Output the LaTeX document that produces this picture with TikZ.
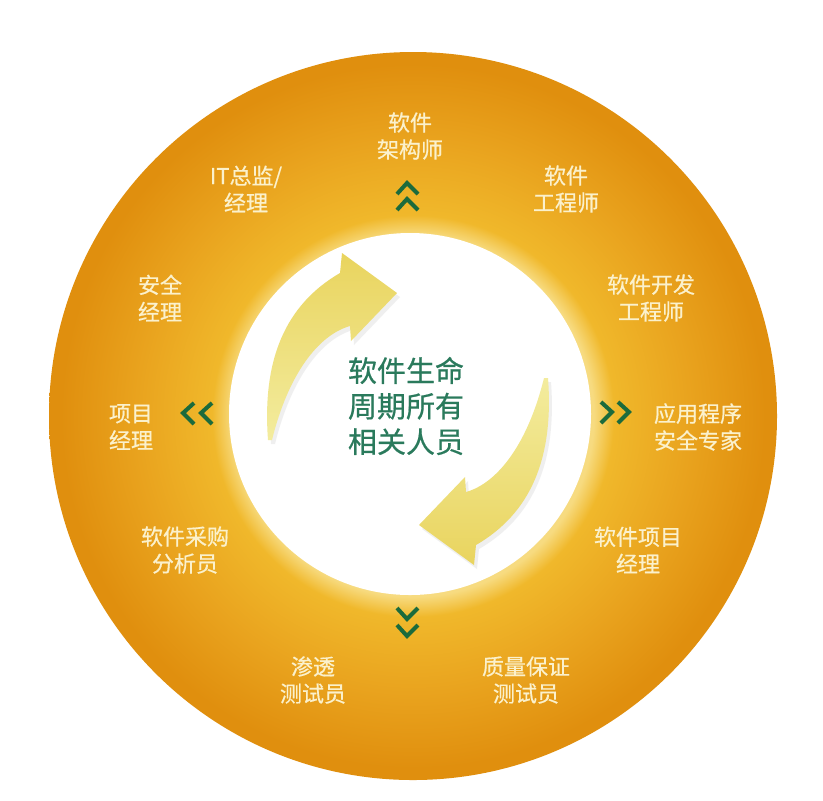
\documentclass[tikz,border=0pt]{standalone}
\usepackage{fontspec}
\setmainfont{Noto Sans CJK SC}
\newfontfamily\lblfont{Noto Sans CJK SC}[FakeBold=0.6]
\usepackage{tikz}
\usetikzlibrary{shapes}
\definecolor{ringout}{HTML}{E08F0E}
\definecolor{ringmid}{HTML}{E9A31E}
\definecolor{ringin}{HTML}{F0B82B}
\definecolor{ringglow}{HTML}{F7DB80}
\definecolor{lbltext}{HTML}{FBF1CC}
\definecolor{chevgreen}{HTML}{1C6B3C}
\definecolor{coretext}{HTML}{2A7A5C}
\definecolor{arrdark}{HTML}{E9D45E}
\definecolor{arrlight}{HTML}{F3EC9E}
\pgfdeclareradialshading{ringshade}{\pgfpoint{0bp}{0bp}}{color(0bp)=(ringglow); color(12.4bp)=(ringglow); color(13.8bp)=(ringin); color(19bp)=(ringmid); color(24.2bp)=(ringout); color(25bp)=(ringout); color(50bp)=(ringout)}
\newcommand{\arrowshape}{(268,440) .. controls (262,360) and (285,305) .. (340,273) -- (342,253) -- (397,293) -- (351,341) -- (350,326) .. controls (318,335) and (288,375) .. (272,440) -- cycle}

\begin{document}
\begin{tikzpicture}[x=0.5pt,y=-0.5pt,
  lbl/.style={text=lbltext,font=\lblfont\fontsize{11pt}{13.5pt}\selectfont,align=center,inner sep=0pt},
  chev/.style={draw=chevgreen,line width=2pt,line join=miter},
  arrshadow/.style={fill=black!30,opacity=0.2}]
\useasboundingbox (0,0) rectangle (823,800);
\fill[white] (0,0) rectangle (823,800);
% ring
\shade[shading=ringshade] (413,416) circle (364);
\fill[white] (410,414) circle (181);
% cycle arrows
\fill[arrshadow,shift={(3,4)}] \arrowshape;
\shade[top color=arrdark,bottom color=arrlight] \arrowshape;
\fill[arrshadow,shift={(3,4)},rotate around={180:(408,409)}] \arrowshape;
\shade[top color=arrlight,bottom color=arrdark,rotate around={180:(408,409)}] \arrowshape;
\node[text=coretext,font=\lblfont\fontsize{14.5pt}{17.75pt}\selectfont,align=center,inner sep=0pt] (core) at (406,406) {软件生命\\周期所有\\相关人员};
% chevrons
\draw[chev] (397,194) -- (407,183) -- (418,194);
\draw[chev] (397,210) -- (407,199) -- (418,210);
\draw[chev] (397,608) -- (407,619) -- (418,608);
\draw[chev] (397,625) -- (407,636) -- (418,625);
\draw[chev] (194,403) -- (183,413) -- (194,424);
\draw[chev] (212,403) -- (201,413) -- (212,424);
\draw[chev] (601,402) -- (612,412) -- (601,423);
\draw[chev] (618,402) -- (629,412) -- (618,423);
% roles
\node[lbl] (arch) at (410,136) {软件\\架构师};
\node[lbl] (itdir) at (246,189) {IT总监/\\经理};
\node[lbl] (sweng) at (566,189) {软件\\工程师};
\node[lbl] (secmgr) at (160,298) {安全\\经理};
\node[lbl] (deveng) at (651,298) {软件开发\\工程师};
\node[lbl] (projmgr) at (131,427) {项目\\经理};
\node[lbl] (appsec) at (698,427) {应用程序\\安全专家};
\node[lbl] (buyer) at (185,550) {软件采购\\分析员};
\node[lbl] (swpm) at (638,550) {软件项目\\经理};
\node[lbl] (pentest) at (313,680) {渗透\\测试员};
\node[lbl] (qatest) at (526,680) {质量保证\\测试员};
\end{tikzpicture}
\end{document}
